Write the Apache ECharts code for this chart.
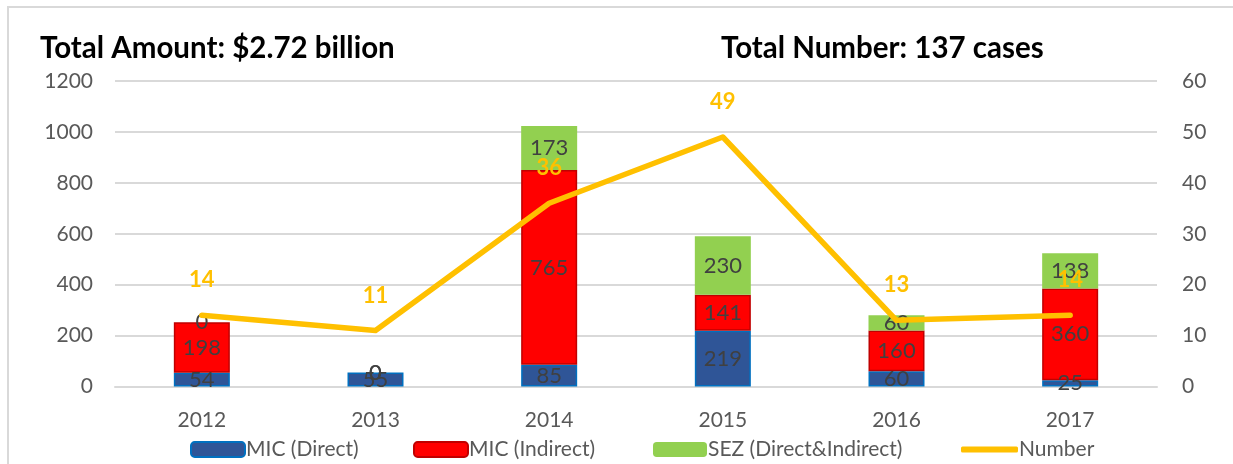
<!DOCTYPE html>
<html>
<head>
<meta charset="utf-8">
<script src="https://cdn.jsdelivr.net/npm/echarts@6/dist/echarts.min.js"></script>
<style>
  html, body { margin: 0; padding: 0; background: #fff; overflow: hidden; }
  #chart { width: 1233px; height: 464px; }
</style>
</head>
<body>
<div id="chart"></div>
<script>
const years = ['2012', '2013', '2014', '2015', '2016', '2017'];
const micDirect = [54, 55, 85, 219, 60, 25];
const micIndirect = [198, 0, 765, 141, 160, 360];
const sez = [0, 0, 173, 230, 60, 138];
const numberCases = [14, 11, 36, 49, 13, 14];
const titleLeft = 'Total Amount: $2.72 billion';
const titleRight = 'Total Number: 137 cases';

const FONT = 'Lato';
const chart = echarts.init(document.getElementById('chart'));

const barLabel = {
  show: true,
  position: 'inside',
  color: '#404040',
  fontFamily: FONT,
  fontSize: 22
};

// zero-height segments: no border line drawn
function barData(values) {
  return values.map(v => (v === 0 ? { value: v, itemStyle: { borderWidth: 0 } } : v));
}

function legendAt(data, left, extra) {
  return Object.assign({
    data: data,
    left: left,
    top: 434,
    itemWidth: 54,
    itemHeight: 15,
    itemGap: 0,
    selectedMode: false,
    textStyle: { color: '#595959', fontFamily: FONT, fontSize: 21, padding: [0, 0, 0, -4] }
  }, extra || {});
}

chart.setOption({
  backgroundColor: '#ffffff',
  animation: false,
  title: [
    { text: titleLeft, left: 35, top: 28, textStyle: { fontFamily: FONT, fontWeight: 'bold', fontSize: 29.5, color: '#000' } },
    { text: titleRight, left: 716, top: 28, textStyle: { fontFamily: FONT, fontWeight: 'bold', fontSize: 29.5, color: '#000' } }
  ],
  graphic: [{
    type: 'rect',
    shape: { x: 8, y: 7, width: 1500, height: 600 },
    style: { fill: 'none', stroke: '#D9D9D9', lineWidth: 2 },
    silent: true
  }],
  legend: [
    legendAt(['MIC (Direct)'], 185),
    legendAt(['MIC (Indirect)'], 408),
    legendAt(['SEZ (Direct&Indirect)'], 648),
    legendAt([{ name: 'Number', icon: 'roundRect' }], 956, { itemWidth: 57, itemHeight: 6 })
  ],
  grid: { left: 115, right: 76, top: 81, bottom: 77.5 },
  xAxis: {
    type: 'category',
    data: years,
    axisLine: { lineStyle: { color: '#D9D9D9', width: 2 } },
    axisTick: { show: false },
    axisLabel: { color: '#595959', fontFamily: FONT, fontSize: 21, margin: 23 }
  },
  yAxis: [
    {
      type: 'value', min: 0, max: 1200, interval: 200,
      axisLine: { show: false }, axisTick: { show: false },
      splitLine: { lineStyle: { color: '#D9D9D9', width: 2 } },
      axisLabel: { color: '#595959', fontFamily: FONT, fontSize: 21, margin: 22, formatter: v => String(v) }
    },
    {
      type: 'value', min: 0, max: 60, interval: 10, position: 'right',
      axisLine: { show: false }, axisTick: { show: false },
      splitLine: { show: false },
      axisLabel: { color: '#595959', fontFamily: FONT, fontSize: 21, margin: 25, formatter: v => String(v) }
    }
  ],
  series: [
    {
      name: 'MIC (Direct)', type: 'bar', stack: 'amt', data: barData(micDirect), barWidth: 56,
      itemStyle: { color: '#2F5597', borderColor: '#0070C0', borderWidth: 1.5 },
      label: barLabel
    },
    {
      name: 'MIC (Indirect)', type: 'bar', stack: 'amt', data: barData(micIndirect), barWidth: 56,
      itemStyle: { color: '#FF0000', borderColor: '#C00000', borderWidth: 1.5 },
      label: barLabel
    },
    {
      name: 'SEZ (Direct&Indirect)', type: 'bar', stack: 'amt', data: barData(sez), barWidth: 56,
      itemStyle: { color: '#92D050' },
      label: barLabel
    },
    {
      name: 'Number', type: 'line', yAxisIndex: 1, data: numberCases,
      symbol: 'circle', symbolSize: 4, z: 5,
      itemStyle: { color: '#FFC000' },
      lineStyle: { color: '#FFC000', width: 5.5, cap: 'round', join: 'round' },
      label: {
        show: true, position: 'top', distance: 22,
        color: '#FFC000', fontFamily: FONT, fontWeight: 'bold', fontSize: 22
      }
    }
  ]
});
</script>
</body>
</html>
